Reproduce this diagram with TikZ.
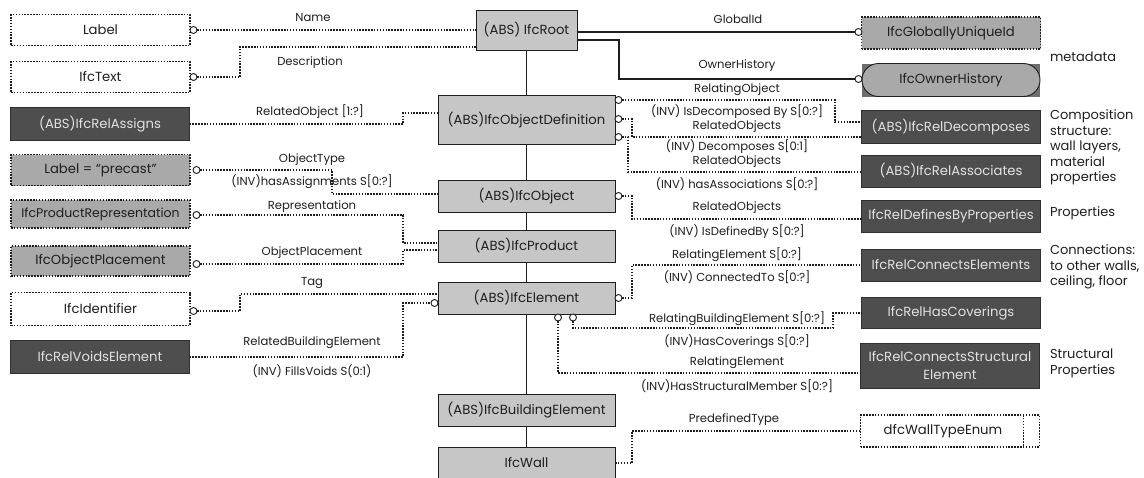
\documentclass[tikz,border=0pt]{standalone}
\usepackage{fontspec}
\setmainfont{Poppins}
\usetikzlibrary{shapes.misc}

\definecolor{clsfill}{HTML}{C6C6C6}
\definecolor{boxgray}{HTML}{A9A9A9}
\definecolor{darkfill}{HTML}{4E4E4E}
\definecolor{darkedge}{HTML}{303030}
\definecolor{darktext}{HTML}{E2E2E2}
\definecolor{ownerframe}{HTML}{6E6E6E}
\definecolor{ink}{HTML}{1E1E1E}

\tikzset{
  every node/.style={inner sep=0pt, outer sep=0pt, text=ink},
  dotline/.style={dash pattern=on 1.5pt off 1.4pt, line width=1.1pt},
  basebox/.style={minimum width=179pt, minimum height=32pt, align=center,
                  font=\fontsize{13.2}{17}\selectfont},
  whitebox/.style={basebox, draw=ink, fill=white, dotline},
  graybox/.style={basebox, draw=ink, fill=boxgray, dotline},
  darkbox/.style={basebox, fill=darkfill, draw=darkedge, text=darktext},
  classbox/.style={basebox, fill=clsfill, draw=ink, line width=1pt, minimum width=177pt},
  rellink/.style={dotline, draw=ink},
  solidlink/.style={line width=1.1pt, draw=ink},
  ring/.style={circle, draw=ink, fill=white, line width=0.9pt, minimum size=7pt},
  rolelabel/.style={font=\fontsize{11.6}{13}\selectfont},
  sidenote/.style={font=\fontsize{13}{15.5}\selectfont, align=left, anchor=west},
}

\begin{document}
\begin{tikzpicture}[x=1pt, y=-1pt]
\useasboundingbox (0,0) rectangle (1144,477);

% ---- inheritance spine ----
\node[classbox, minimum width=101, minimum height=40] (root) at (526.5,30) {(ABS) IfcRoot};
\node[classbox, minimum height=49] (objdef) at (526.5,120) {(ABS)IfcObjectDefinition};
\node[classbox] (object) at (526.5,196) {(ABS)IfcObject};
\node[classbox] (product) at (526.5,246) {(ABS)IfcProduct};
\node[classbox] (element) at (526.5,298) {(ABS)IfcElement};
\node[classbox] (bldg) at (526.5,410) {(ABS)IfcBuildingElement};
\node[classbox] (wall) at (526.5,463) {IfcWall};
\draw[solidlink] (root) -- (objdef) -- (object) -- (product) -- (element) -- (bldg) -- (wall);

% ---- left column ----
\node[whitebox, minimum height=31] (label) at (100.5,30) {Label};
\node[whitebox, minimum height=31] (ifctext) at (100.5,77) {IfcText};
\node[darkbox, minimum height=33] (relassigns) at (100,124) {(ABS)IfcRelAssigns};
\node[graybox, minimum height=31] (precast) at (100.5,170) {Label = “precast”};
\node[graybox, minimum height=28, font=\fontsize{12.5}{14}\selectfont] (prodrep) at (100.5,214) {IfcProductRepresentation};
\node[graybox, minimum height=30] (objplace) at (100.5,261) {IfcObjectPlacement};
\node[whitebox, minimum height=33] (identifier) at (100.5,309) {IfcIdentifier};
\node[darkbox, minimum height=33] (relvoids) at (100,357) {IfcRelVoidsElement};

% ---- right column ----
\node[graybox] (guid) at (951,33) {IfcGloballyUniqueId};
\node[fill=ownerframe, minimum width=178, minimum height=33] (ownerbg) at (951,80) {};
\node[rounded rectangle, draw=ink, line width=0.9pt, fill=boxgray, minimum width=178,
      minimum height=33, font=\fontsize{13.2}{17}\selectfont] (owner) at (951,80) {IfcOwnerHistory};
\node[darkbox, minimum height=33] (reldec) at (951,127) {(ABS)IfcRelDecomposes};
\node[darkbox] (relassoc) at (951,171) {(ABS)IfcRelAssociates};
\node[darkbox] (reldef) at (951,216) {IfcRelDefinesByProperties};
\node[darkbox] (relconn) at (951,265) {IfcRelConnectsElements};
\node[darkbox, minimum height=31] (relcov) at (951,313) {IfcRelHasCoverings};
\node[darkbox, minimum height=45, font=\fontsize{13.2}{18.5}\selectfont] (relstruct) at (950,365.5) {IfcRelConnectsStructural\\Element};
\node[whitebox] (wallenum) at (950,431) {dfcWallTypeEnum\hspace*{14pt}};
\draw[rellink] ([xshift=-16pt]wallenum.north east) -- ([xshift=-16pt]wallenum.south east);

% ---- side notes ----
\node[sidenote] (nmeta) at (1050,57) {metadata};
\node[sidenote, anchor=north west] (ncomp) at (1050,110) {Composition\\structure:\\wall layers,\\material\\properties};
\node[sidenote] (nprop) at (1050,213) {Properties};
\node[sidenote, anchor=north west] (nconn) at (1050,245) {Connections:\\to other walls,\\ceiling, floor};
\node[sidenote, anchor=north west] (nstruct) at (1050,349) {Structural\\Properties};

% ---- rings (optional-attribute markers) ----
\node[ring] (rlabel) at (193.5,30) {};
\node[ring] (rtext) at (193.5,77) {};
\node[ring] (rprecast) at (196.5,170) {};
\node[ring] (rprodrep) at (196.5,215) {};
\node[ring] (robjplace) at (196.5,264) {};
\node[ring] (rident) at (193.5,311) {};
\node[ring] (rvoids) at (434.5,303) {};
\node[ring] (rguid) at (858.5,32) {};
\node[ring] (rowner) at (858.5,79) {};
\node[ring] (rdef1) at (618.5,100) {};
\node[ring] (rdef2) at (618.5,119) {};
\node[ring] (rdef3) at (618.5,137) {};
\node[ring] (robj) at (618.5,196) {};
\node[ring] (relem) at (618.5,298) {};
\node[ring] (rcov) at (573,317.5) {};
\node[ring] (rstr) at (558,317.5) {};

% ---- left connectors ----
\draw[rellink] (rlabel.east) -- (root.west |- rlabel);
\node[rolelabel] (tname) at (313,18) {Name};

\draw[rellink] (rtext.east) -- (240,77) -- (240,47) -- (root.west |- 240,47);
\node[rolelabel] (tdesc) at (310,63) {Description};

\draw[rellink] (relassigns.east |- 0,124) -- (403,124) -- (403,113) -- (objdef.west |- 403,113);
\node[rolelabel] (tassign) at (310,112) {RelatedObject [1:?]};

\draw[rellink] (rprecast.east) -- (332,170) -- (332,194) -- (object.west |- 332,194);
\node[rolelabel] (tobjtype) at (312,160) {ObjectType};
\node[rolelabel] (thasass) at (312,182) {(INV)hasAssignments S[0:?]};

\draw[rellink] (rprodrep.east) -- (403,215) -- (403,243) -- (product.west |- 403,243);
\node[rolelabel] (trepr) at (312,207) {Representation};

\draw[rellink] (robjplace.east) -- (403,264) -- (403,250) -- (product.west |- 403,250);
\node[rolelabel] (tplace) at (312,253) {ObjectPlacement};

\draw[rellink] (rident.east) -- (240,311) -- (240,294) -- (element.west |- 240,294);
\node[rolelabel] (ttag) at (312,283) {Tag};

\draw[rellink] (relvoids.east) -- (403,357) -- (403,303) -- (rvoids.west);
\node[rolelabel] (trbe) at (312,343) {RelatedBuildingElement};
\node[rolelabel] (tfills) at (312,371) {(INV) FillsVoids S(0:1)};

% ---- right connectors ----
\draw[solidlink] (root.east |- rguid) -- (rguid.west);
\node[rolelabel] (tgid) at (738,19) {GlobalId};

\draw[solidlink] (root.east |- 0,40) -- (619,40) -- (619,79) -- (rowner.west);
\node[rolelabel] (towner) at (737,66) {OwnerHistory};

\draw[rellink] (rdef1.east) -- (835,100) -- (835,122) -- (reldec.west |- 835,122);
\node[rolelabel] (trelobj) at (737,90) {RelatingObject};
\node[rolelabel] (tisdec) at (737,112) {(INV) IsDecomposed By S[0:?]};

\draw[rellink] (rdef2.east) -- (632,119) -- (632,137) -- (reldec.west |- 632,137);
\node[rolelabel] (trel1) at (737,127) {RelatedObjects};
\node[rolelabel] (tdecomp) at (737,147) {(INV) Decomposes S[0:1]};

\draw[rellink] (rdef3.east) -- (628,137) -- (628,172) -- (relassoc.west |- 628,172);
\node[rolelabel] (trel2) at (737,162) {RelatedObjects};
\node[rolelabel] (thasassoc) at (737,184) {(INV) hasAssociations S[0:?]};

\draw[rellink] (robj.east) -- (632,196) -- (632,219) -- (reldef.west |- 632,219);
\node[rolelabel] (trel3) at (737,208) {RelatedObjects};
\node[rolelabel] (tisdef) at (737,232) {(INV) IsDefinedBy S[0:?]};

\draw[rellink] (relem.east) -- (632,298) -- (632,265) -- (relconn.west);
\node[rolelabel] (trelel) at (737,255) {RelatingElement S[0:?]};
\node[rolelabel] (tconnto) at (737,277) {(INV) ConnectedTo S[0:?]};

\draw[rellink] (rcov.south) -- (573,328) -- (833,328) -- (833,313) -- (relcov.west);
\node[rolelabel] (trbel) at (737,319) {RelatingBuildingElement S[0:?]};
\node[rolelabel] (thascov) at (737,342) {(INV)HasCoverings S[0:?]};

\draw[rellink] (rstr.south) -- (558,373) -- (relstruct.west |- 558,373);
\node[rolelabel] (trelel2) at (737,363) {RelatingElement};
\node[rolelabel] (thasstr) at (737,386) {(INV)HasStructuralMember S[0:?]};

\draw[rellink] (wall.east) -- (632,463) -- (632,431) -- (wallenum.west);
\node[rolelabel] (tpredef) at (734,420) {PredefinedType};
\end{tikzpicture}
\end{document}
